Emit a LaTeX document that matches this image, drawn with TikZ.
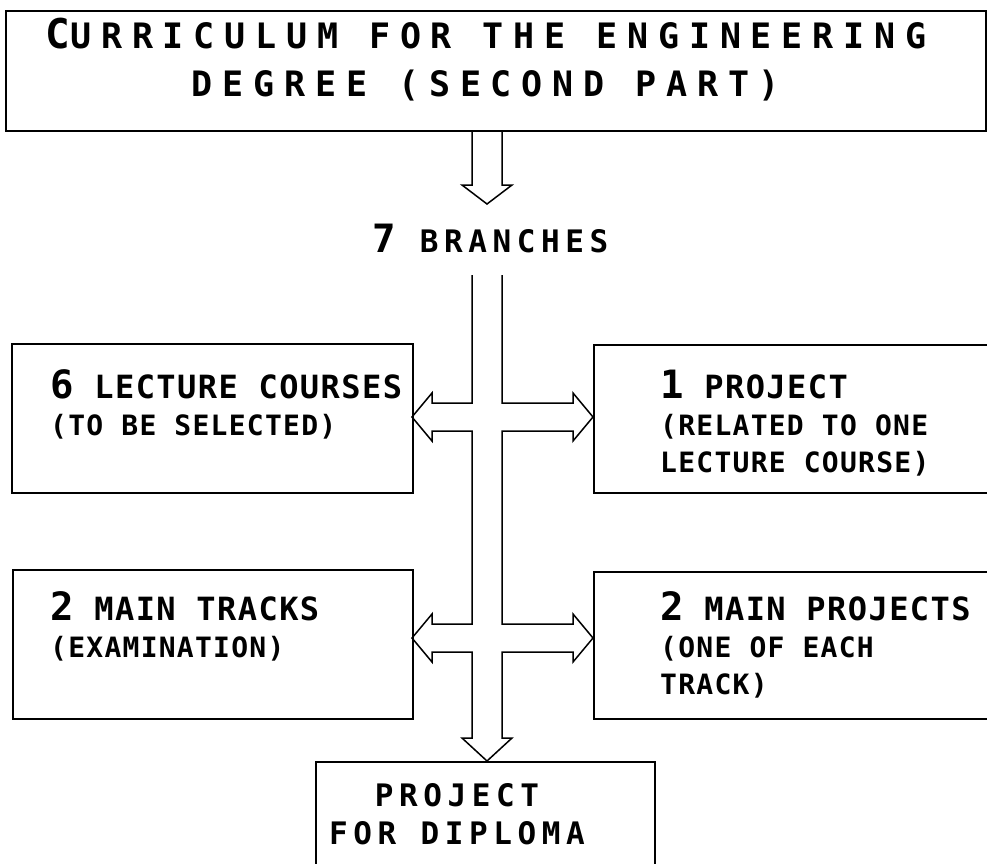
\documentclass[tikz,border=0pt]{standalone}
\usepackage{fontspec}
\newfontfamily\titlefont[LetterSpace=28]{DejaVu Sans Mono Bold}
\newfontfamily\boxfont[LetterSpace=4.5]{DejaVu Sans Mono Bold}
\newfontfamily\labelfont[LetterSpace=18]{DejaVu Sans Mono Bold}

\newcommand{\bigfirst}[1]{{\fontsize{39}{37}\selectfont #1}}
\newcommand{\headline}[1]{{\fontsize{32}{37}\selectfont #1}}

\tikzset{
  box/.style={draw, line width=1.5pt, inner sep=0pt, anchor=north west},
  blockarrow/.style={draw, line width=1.5pt, line join=miter},
  titletext/.style={font=\titlefont\fontsize{35}{48}\selectfont,
    align=center, inner sep=0pt, anchor=north},
  boxtext/.style={font=\boxfont\fontsize{28}{37}\selectfont,
    align=left, inner sep=0pt, anchor=north west},
  bigtext/.style={font=\labelfont\fontsize{31}{38}\selectfont, inner sep=0pt}
}

\begin{document}
\begin{tikzpicture}[x=1pt, y=-1pt]
  \clip (0,0) rectangle (987,863);
  \fill[white] (0,0) rectangle (987,863);

  % boxes
  \node[box, minimum width=980pt, minimum height=120pt] (titlebox) at (5,10) {};
  \node[box, minimum width=401pt, minimum height=149pt] (lect) at (11,343) {};
  \node[box, minimum width=402pt, minimum height=148pt] (proj) at (593,344) {};
  \node[box, minimum width=400pt, minimum height=149pt] (tracks) at (12,569) {};
  \node[box, minimum width=402pt, minimum height=147pt] (mainproj) at (593,571) {};
  \node[box, minimum width=339pt, minimum height=139pt] (diploma) at (315,761) {};

  % texts
  \node[titletext] (title) at (486,18)
    {{\fontsize{41}{48}\selectfont C}URRICULUM FOR THE ENGINEERING\\DEGREE (SECOND PART)};
  \node[bigtext, anchor=base west] (branches) at (372,252) {\bigfirst{7} BRANCHES};
  \node[boxtext] (lecttext) at (50,369)
    {\headline{\bigfirst{6} LECTURE COURSES}\\(TO BE SELECTED)};
  \node[boxtext] (projtext) at (660,370)
    {\headline{\bigfirst{1} PROJECT}\\(RELATED TO ONE\\LECTURE COURSE)};
  \node[boxtext] (trackstext) at (50,591)
    {\headline{\bigfirst{2} MAIN TRACKS}\\(EXAMINATION)};
  \node[boxtext] (mainprojtext) at (660,591)
    {\headline{\bigfirst{2} MAIN PROJECTS}\\(ONE OF EACH\\TRACK)};
  \node[bigtext, align=center, anchor=north] (diplomatext) at (457,783)
    {PROJECT\\FOR DIPLOMA};

  % arrows
  \draw[blockarrow] (472,130) -- (472,185) -- (462,185) -- (487,204)
    -- (512,185) -- (502,185) -- (502,130);
  \draw[blockarrow] (472,275) -- (472,403) -- (432,403) -- (432,393) -- (412,417)
    -- (432,441) -- (432,431) -- (472,431)
    -- (472,624) -- (432,624) -- (432,614) -- (412,638) -- (432,662) -- (432,652) -- (472,652)
    -- (472,738) -- (462,738) -- (487,761) -- (512,738) -- (502,738)
    -- (502,652) -- (573,652) -- (573,662) -- (593,638) -- (573,614) -- (573,624) -- (502,624)
    -- (502,431) -- (573,431) -- (573,441) -- (593,417) -- (573,393) -- (573,403) -- (502,403)
    -- (502,275);
\end{tikzpicture}
\end{document}
